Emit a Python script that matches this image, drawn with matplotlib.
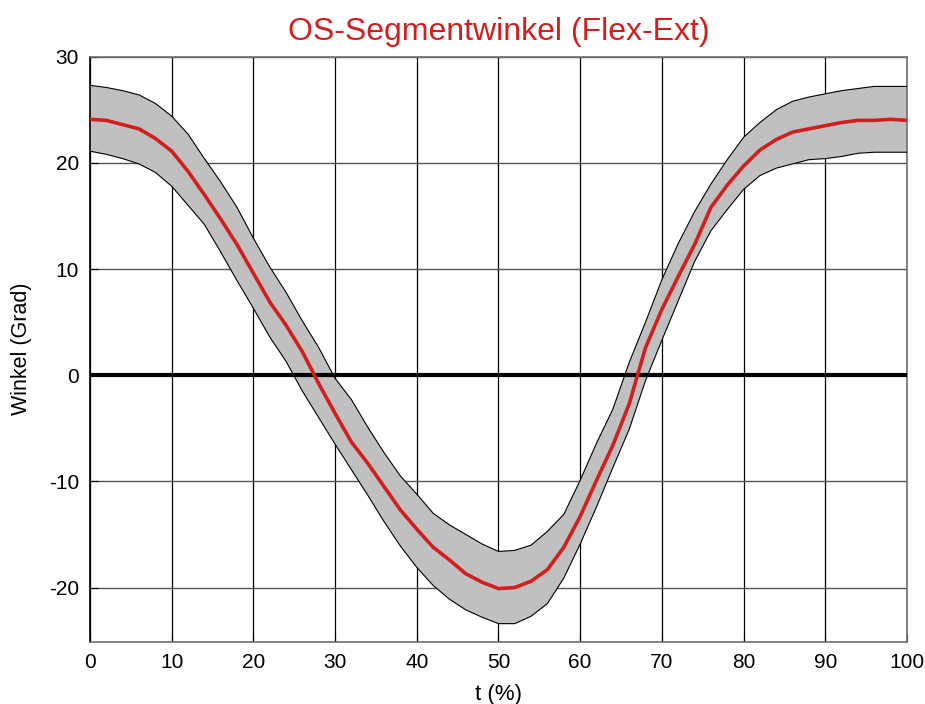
import numpy as np
import matplotlib
matplotlib.use("Agg")
import matplotlib.pyplot as plt

plt.rcParams['font.family'] = ['Liberation Sans', 'DejaVu Sans']
plt.rcParams['axes.unicode_minus'] = False

# Gait cycle (%) and ankle segment angle statistics (degrees)
t = np.arange(0, 101, 2)
mean = [24.1, 24.0, 23.6, 23.2, 22.3, 21.1, 19.2, 17.0, 14.7, 12.3,
        9.6, 6.9, 4.7, 2.2, -0.8, -3.6, -6.3, -8.3, -10.5, -12.7,
        -14.5, -16.2, -17.4, -18.7, -19.5, -20.1, -20.0, -19.4, -18.3, -16.2,
        -13.3, -9.9, -6.6, -2.7, 2.6, 6.2, 9.3, 12.3, 15.8, 17.9,
        19.7, 21.2, 22.2, 22.9, 23.2, 23.5, 23.8, 24.0, 24.0, 24.1, 24.0]
upper = [27.3, 27.1, 26.8, 26.4, 25.6, 24.4, 22.7, 20.4, 18.2, 15.8,
         12.9, 10.2, 7.8, 5.1, 2.6, -0.3, -2.3, -4.9, -7.3, -9.5,
         -11.2, -13.0, -14.1, -15.0, -15.9, -16.6, -16.5, -16.0, -14.7, -13.1,
         -9.9, -6.4, -3.2, 1.2, 5.0, 9.0, 12.4, 15.4, 18.0, 20.3,
         22.4, 23.8, 25.0, 25.8, 26.2, 26.5, 26.8, 27.0, 27.2, 27.2, 27.2]
lower = [21.1, 20.8, 20.4, 19.9, 19.1, 17.8, 16.0, 14.2, 11.6, 8.9,
         6.3, 3.6, 1.3, -1.5, -4.0, -6.5, -8.9, -11.3, -13.8, -16.1,
         -18.1, -19.8, -21.1, -22.1, -22.8, -23.4, -23.4, -22.7, -21.5, -19.1,
         -15.9, -12.4, -8.7, -5.1, -0.5, 3.3, 7.0, 10.7, 13.6, 15.6,
         17.5, 18.8, 19.5, 19.9, 20.3, 20.4, 20.6, 20.9, 21.0, 21.0, 21.0]

xticks = list(range(0, 101, 10))
yticks = [-20, -10, 0, 10, 20, 30]

fig = plt.figure(figsize=(9.25, 7.04), dpi=100)
ax = fig.add_axes([0.0973, 0.0885, 0.8832, 0.831])

# grid beneath the band
for xv in xticks:
    ax.axvline(xv, color='black', lw=0.9, zorder=1)
for yv in yticks:
    ax.axhline(yv, color='#555555', lw=1.0, zorder=1)

ax.fill_between(t, lower, upper, facecolor='#c0c0c0', edgecolor='none', zorder=2)
ax.plot(t, upper, color='black', lw=0.8, zorder=3)
ax.plot(t, lower, color='black', lw=0.8, zorder=3)
ax.axhline(0, color='black', lw=3.0, zorder=4)
ax.plot(t, mean, color='#d11f1f', lw=2.6, zorder=5)

ax.set_xlim(0, 100)
ax.set_ylim(-25.1, 30)
ax.set_xticks(xticks)
ax.set_yticks(yticks)
ax.tick_params(direction='in', length=6, labelsize=15, colors='black', pad=8)

for side in ['top', 'right', 'bottom']:
    ax.spines[side].set_color('#707070')
    ax.spines[side].set_linewidth(1.2)
ax.spines['left'].set_color('black')
ax.spines['left'].set_linewidth(1.2)

ax.set_title('OS-Segmentwinkel (Flex-Ext)', color='#d11f1f', fontsize=23, pad=12)
ax.set_xlabel('t (%)', fontsize=16, labelpad=9)
ax.set_ylabel('Winkel (Grad)', fontsize=15.5, labelpad=12)

fig.savefig('out.png', dpi=100)
